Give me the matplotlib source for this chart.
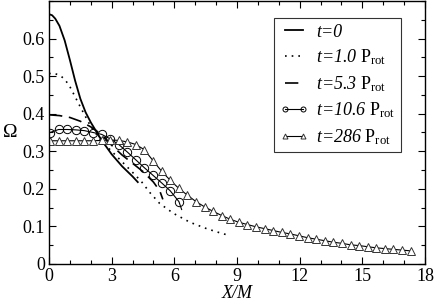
import matplotlib
matplotlib.use('Agg')
import matplotlib.pyplot as plt
from matplotlib.ticker import MultipleLocator

plt.rcParams['font.family'] = 'Liberation Serif'
plt.rcParams['mathtext.fontset'] = 'custom'
plt.rcParams['mathtext.rm'] = 'Liberation Serif'
plt.rcParams['mathtext.it'] = 'Liberation Serif:italic'

# t = 0
x_t0 = [0.0, 0.15, 0.3, 0.5, 0.75, 1.0, 1.25, 1.5, 1.75, 2.0, 2.5, 3.0, 3.5, 4.0, 4.25]
y_t0 = [0.665, 0.662, 0.653, 0.634, 0.595, 0.543, 0.488, 0.440, 0.404, 0.377, 0.331, 0.292, 0.260, 0.233, 0.218]

# t = 1.0 Prot
x_t1 = [0.0, 0.25, 0.5, 0.75, 1.0, 1.25, 1.5, 2.0, 2.5, 3.0, 3.5, 4.0, 4.43, 4.83, 5.3, 5.95, 6.75, 7.55, 8.18, 8.5]
y_t1 = [0.507, 0.507, 0.503, 0.492, 0.472, 0.445, 0.418, 0.366, 0.328, 0.300, 0.272, 0.244, 0.219, 0.190, 0.161, 0.135, 0.111, 0.094, 0.083, 0.078]

# t = 5.3 Prot
x_t5 = [0.0, 0.5, 1.0, 1.5, 2.0, 2.5, 3.0, 3.5, 4.0, 4.5, 5.0, 5.3, 5.45]
y_t5 = [0.397, 0.395, 0.390, 0.380, 0.365, 0.345, 0.316, 0.290, 0.268, 0.246, 0.218, 0.195, 0.172]

# t = 10.6 Prot
x_t10 = [0.05, 0.46, 0.87, 1.28, 1.69, 2.11, 2.52, 2.93, 3.34, 3.75, 4.16, 4.57, 4.98, 5.39, 5.80, 6.22, 6.35]
y_t10 = [0.350, 0.358, 0.358, 0.357, 0.355, 0.350, 0.345, 0.333, 0.318, 0.298, 0.277, 0.256, 0.236, 0.216, 0.195, 0.166, 0.145]

# t = 286 Prot
x_t286 = [0.05, 0.46, 0.87, 1.28, 1.69, 2.11, 2.52, 2.93, 3.34, 3.75, 4.16, 4.57, 4.98, 5.39,
          5.80, 6.22, 6.63, 7.04, 7.45, 7.86, 8.27, 8.68, 9.09, 9.50, 9.91, 10.33, 10.74, 11.15,
          11.56, 11.97, 12.38, 12.79, 13.20, 13.61, 14.02, 14.44, 14.85, 15.26, 15.67, 16.08,
          16.49, 16.90, 17.31]
y_t286 = [0.328, 0.328, 0.328, 0.328, 0.328, 0.328, 0.329, 0.330, 0.329, 0.325, 0.318, 0.304, 0.275, 0.247,
          0.223, 0.201, 0.183, 0.166, 0.152, 0.140, 0.129, 0.119, 0.111, 0.105, 0.099, 0.094, 0.089, 0.084,
          0.080, 0.075, 0.070, 0.066, 0.062, 0.058, 0.055, 0.051, 0.049, 0.046, 0.043, 0.041,
          0.039, 0.037, 0.035]

fig = plt.figure(figsize=(4.36, 3.02), dpi=100)
ax = fig.add_axes([49/436, 38/302, 376/436, 263/302])

ax.plot(x_t0, y_t0, color='black', lw=1.3, label='t=0')
ax.plot(x_t1, y_t1, color='black', lw=1.2, ls=(0, (1, 3)),
        label=r't=1.0 $\mathrm{P_{rot}}$')
ax.plot(x_t5, y_t5, color='black', lw=1.2, ls=(0, (8, 4)),
        label=r't=5.3 $\mathrm{P_{rot}}$')
ax.plot(x_t10, y_t10, color='black', lw=0.8, marker='o', ms=6, mfc='none', mew=0.7,
        markevery=slice(0, len(x_t10) - 1), label=r't=10.6 $\mathrm{P_{rot}}$')
ax.plot(x_t286, y_t286, color='black', lw=0.8, marker='^', ms=6, mfc='white', mec='#333333', mew=0.7,
        label=r't=286 $\mathrm{P_{rot}}$')

ax.set_xlim(0, 18)
ax.set_ylim(0, 0.7)
ax.xaxis.set_major_locator(MultipleLocator(3))
ax.xaxis.set_minor_locator(MultipleLocator(1))
ax.yaxis.set_minor_locator(MultipleLocator(0.05))
ax.set_yticks([0, 0.1, 0.2, 0.3, 0.4, 0.5, 0.6])
ax.set_yticklabels(['0', '0.1', '0.2', '0.3', '0.4', '0.5', '0.6'])
ax.tick_params(which='both', direction='in', top=True, right=True, labelsize=13, pad=3)
ax.tick_params(which='major', length=5, width=0.8)
ax.tick_params(which='minor', length=3, width=0.8)
for s in ax.spines.values():
    s.set_linewidth(1.0)

ax.set_xlabel('X/M', fontsize=13, style='italic', labelpad=0)
ax.set_ylabel('Ω', fontsize=14, rotation=0, labelpad=9, va='center')

leg = ax.legend(loc='upper right', bbox_to_anchor=(0.935, 0.935), borderaxespad=0,
                prop={'size': 13, 'style': 'italic'}, frameon=True,
                fancybox=False, edgecolor='black', handlelength=1.6, handletextpad=0.4,
                labelspacing=0.38, borderpad=0.3, numpoints=2, markerscale=0.6)
leg.get_frame().set_linewidth(0.8)

fig.savefig('out.png', dpi=100)
